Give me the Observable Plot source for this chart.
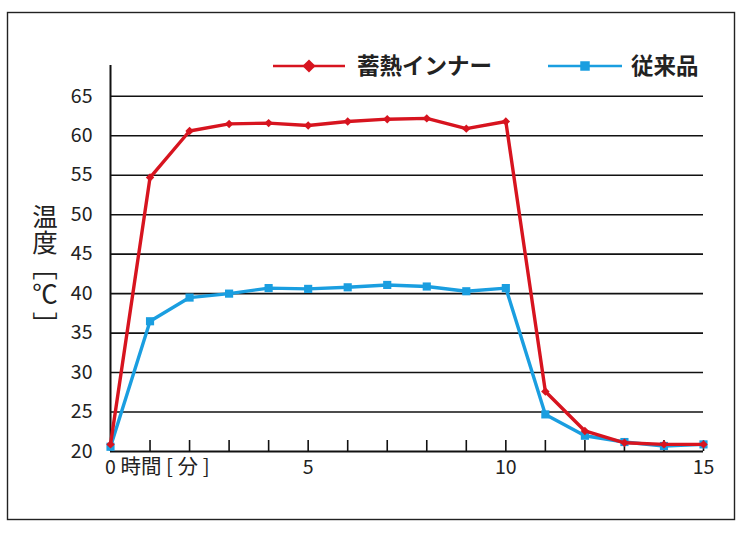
<!DOCTYPE html>
<html>
<head>
<meta charset="utf-8">
<script src="https://cdn.jsdelivr.net/npm/d3@7"></script>
<script src="https://cdn.jsdelivr.net/npm/@observablehq/plot@0.6"></script>
<style>
  html, body { margin: 0; padding: 0; background: #fff; }
  #chart svg { display: block; }
</style>
</head>
<body>
<div id="chart"></div>
<script>
const minutes = [0, 1, 2, 3, 4, 5, 6, 7, 8, 9, 10, 11, 12, 13, 14, 15];
const storageInner = [20.9, 54.7, 60.6, 61.5, 61.6, 61.3, 61.8, 62.1, 62.2, 60.9, 61.8, 27.6, 22.6, 21.1, 20.9, 20.9];
const conventional = [20.6, 36.5, 39.5, 40.0, 40.7, 40.6, 40.8, 41.1, 40.9, 40.3, 40.7, 24.7, 22.0, 21.2, 20.7, 20.9];
const yTicks = [20, 25, 30, 35, 40, 45, 50, 55, 60, 65];
const xTickLabels = [0, 5, 10, 15];
const seriesNames = ["蓄熱インナー", "従来品"];
const seriesColors = ["#d7141f", "#1a9ee0"];
const xLabel = "時間 [ 分 ]";
const yLabel = "温度［℃ ］";

const red = minutes.map((m, i) => ({m, v: storageInner[i]}));
const blue = minutes.map((m, i) => ({m, v: conventional[i]}));

const W = 742, H = 533;
const mL = 110, mR = 39, mT = 65, mB = 82;
const plotH = H - mT - mB;

const font = "'Noto Sans CJK JP', 'Noto Sans', sans-serif";

const plot = Plot.plot({
  width: W,
  height: H,
  marginLeft: mL,
  marginRight: mR,
  marginTop: mT,
  marginBottom: mB,
  style: {fontFamily: font, fontSize: "19.5px", color: "#222", background: "#fff"},
  x: {domain: [0, 15], label: null},
  y: {domain: [20, 68.9], label: null},
  marks: [
    Plot.ruleY(yTicks.slice(1), {stroke: "#111", strokeWidth: 1.6}),
    Plot.ruleX(minutes.slice(1), {stroke: "#111", strokeWidth: 1.6, insetTop: plotH - 11}),
    Plot.ruleX([0], {stroke: "#111", strokeWidth: 2}),
    Plot.ruleY([20], {stroke: "#111", strokeWidth: 2}),
    Plot.axisY({ticks: yTicks, tickSize: 0, tickPadding: 18, fontSize: 19.5, fill: "#222", label: null}),
    Plot.axisX({ticks: xTickLabels, tickSize: 0, tickPadding: 9, fontSize: 19.5, fill: "#222", label: null}),
    Plot.text([0], {x: d => d, text: () => xLabel, frameAnchor: "bottom", lineAnchor: "top", textAnchor: "start", dx: 10, dy: 8, fontSize: 20.5, fill: "#222"}),
    Plot.line(blue, {x: "m", y: "v", stroke: seriesColors[1], strokeWidth: 3.4}),
    Plot.dot(blue, {x: "m", y: "v", symbol: "square", r: 4.6, fill: seriesColors[1], stroke: "none"}),
    Plot.line(red, {x: "m", y: "v", stroke: seriesColors[0], strokeWidth: 3.4}),
    Plot.dot(red, {x: "m", y: "v", symbol: "diamond2", r: 3.8, fill: seriesColors[0], stroke: "none"})
  ]
});

const svg = d3.select(plot);
// outer border
svg.append("rect")
  .attr("x", 7.5).attr("y", 12.5).attr("width", 727).attr("height", 507)
  .attr("fill", "none").attr("stroke", "#222").attr("stroke-width", 1.4);

// legend
const legend = [
  {x1: 273, x2: 345, tx: 357, symbol: d3.symbolDiamond2, size: 110},
  {x1: 548, x2: 622, tx: 631, symbol: d3.symbolSquare, size: 90}
];
legend.forEach((l, i) => {
  const g = svg.append("g");
  g.append("line").attr("x1", l.x1).attr("x2", l.x2).attr("y1", 66).attr("y2", 66)
    .attr("stroke", seriesColors[i]).attr("stroke-width", 2.6);
  g.append("path").attr("d", d3.symbol(l.symbol, l.size)())
    .attr("transform", `translate(${(l.x1 + l.x2) / 2},66)`).attr("fill", seriesColors[i]);
  g.append("text").attr("x", l.tx).attr("y", 66).attr("dy", "0.36em")
    .attr("text-anchor", "start")
    .attr("font-size", 22.5).attr("font-weight", "bold").attr("fill", "#222")
    .attr("font-family", font).text(seriesNames[i]);
});

// y label (vertical writing)
svg.append("text")
  .attr("x", 45).attr("y", 204)
  .attr("text-anchor", "start")
  .attr("writing-mode", "vertical-rl")
  .attr("font-size", 25.5).attr("fill", "#222").attr("font-family", font)
  .style("text-orientation", "mixed")
  .text(yLabel);

document.getElementById("chart").appendChild(plot);
</script>
</body>
</html>
